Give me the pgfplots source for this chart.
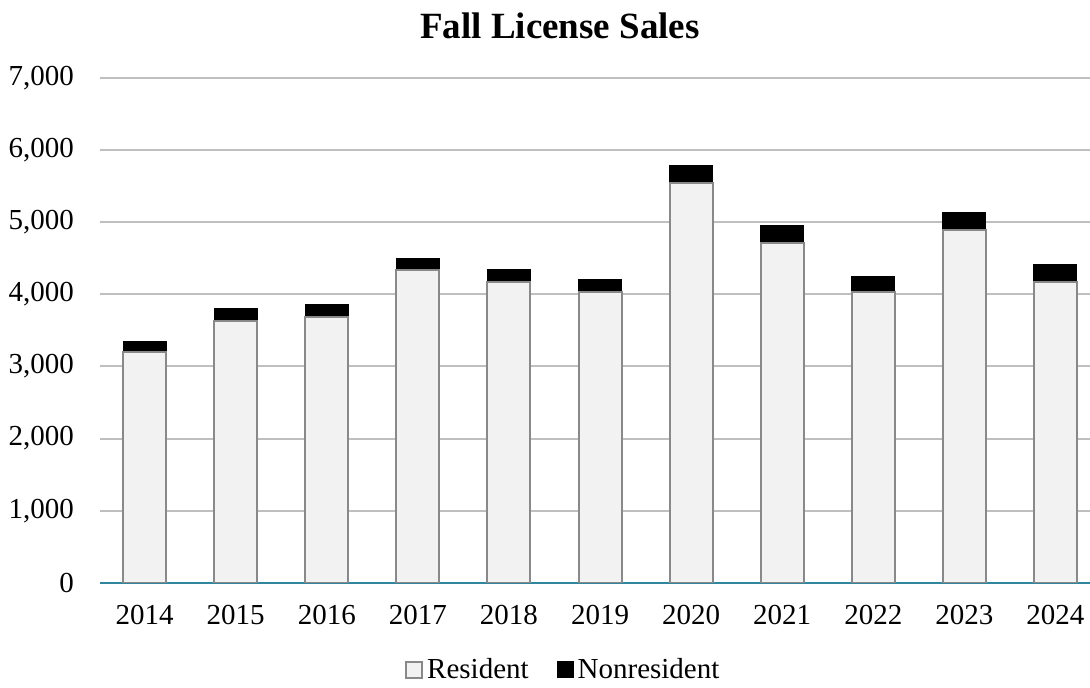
\documentclass[border=0pt]{standalone}
\usepackage{pgfplots}
\pgfplotsset{compat=1.18}
\usepackage{fontspec}
\setmainfont{Liberation Serif}

\definecolor{resfill}{RGB}{242,242,242}
\definecolor{resline}{RGB}{137,137,137}
\definecolor{gridgray}{RGB}{191,191,191}
\definecolor{axisteal}{RGB}{49,133,156}

% x = category index (0 = 2014), y = licences sold
\pgfplotstableread{
x resident nonresident
0  3204 139
1  3635 162
2  3681 172
3  4339 161
4  4172 171
5  4033 167
6  5538 254
7  4708 246
8  4033 213
9  4894 241
10 4176 241
}\sales

\begin{document}
\begin{tikzpicture}
\useasboundingbox (0,0) rectangle (545pt,343.5pt);
\begin{axis}[
    at={(50pt,52.15pt)}, anchor=south west,
    scale only axis,
    width=495pt, height=252.35pt,
    ybar stacked,
    bar width=21.5pt,
    xmin=-0.49, xmax=10.38,
    ymin=0, ymax=7000,
    ytick={0,1000,...,7000},
    xtick=data,
    xticklabels={2014,2015,2016,2017,2018,2019,2020,2021,2022,2023,2024},
    axis x line*=bottom, axis y line*=left,
    axis line style={-},
    y axis line style={draw=none},
    x axis line style={draw=axisteal, line width=1pt},
    major tick length=0pt,
    ymajorgrids,
    grid style={draw=gridgray, line width=1pt},
    scaled y ticks=false,
    /pgf/number format/assume math mode=true,
    yticklabel style={/pgf/number format/fixed, /pgf/number format/1000 sep={,}},
    tick label style={font=\fontsize{14.5}{17}\selectfont},
    yticklabel style={xshift=-9.5pt},
    xticklabel style={yshift=-7.5pt},
    legend columns=2,
    legend style={at={(0.469,-0.172)}, anchor=center, draw=none, fill=none,
        font=\fontsize{14.5}{17}\selectfont,
        /tikz/every even column/.append style={column sep=12pt}},
    legend image code/.code={\draw[#1] (0pt,-4pt) rectangle (8pt,4pt);},
]
\addplot[fill=resfill, draw=resline, line width=1pt] table[x=x, y=resident] {\sales};
\addplot[fill=black, draw=black, line width=0.5pt] table[x=x, y=nonresident] {\sales};
\legend{Resident, Nonresident}
\end{axis}
\node[anchor=base, font=\bfseries\fontsize{18.5}{22}\selectfont] at (280pt,324pt) {Fall License Sales};
\end{tikzpicture}
\end{document}
